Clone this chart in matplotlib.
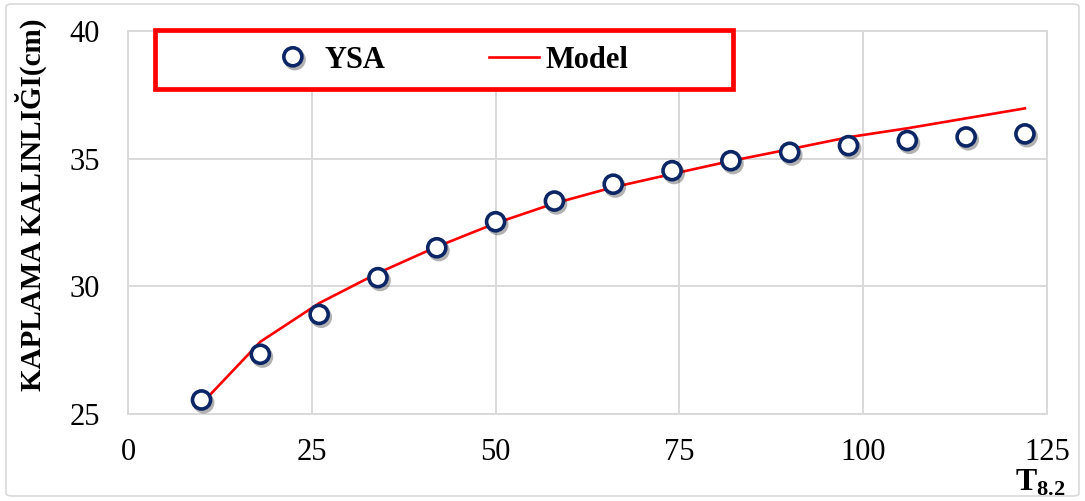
import matplotlib
matplotlib.use("Agg")
import matplotlib.pyplot as plt
import matplotlib.patheffects as pe
from matplotlib.patches import FancyBboxPatch, Rectangle

plt.rcParams['font.family'] = ['Liberation Serif', 'DejaVu Serif']
plt.rcParams['mathtext.fontset'] = 'custom'
plt.rcParams['mathtext.rm'] = 'Liberation Serif'
plt.rcParams['mathtext.bf'] = 'Liberation Serif:bold'

# T8.2 values and pavement thickness (cm)
t_values = [10, 18, 26, 34, 42, 50, 58, 66, 74, 82, 90, 98, 106, 114, 122]
ysa = [25.55, 27.34, 28.9, 30.34, 31.51, 32.53, 33.34, 34.0, 34.53,
       34.92, 35.25, 35.51, 35.71, 35.85, 35.97]
model = [25.4, 27.83, 29.34, 30.52, 31.55, 32.47, 33.25, 33.88, 34.4,
         34.91, 35.37, 35.84, 36.19, 36.58, 36.97]

x_ticks = [0, 25, 50, 75, 100, 125]
y_ticks = [25, 30, 35, 40]

W, H = 1085, 501
fig = plt.figure(figsize=(W / 100, H / 100), dpi=100)
ax = fig.add_axes([128 / W, 1 - 414 / H, (1047 - 128) / W, (414 - 31) / H])

grid_c = '#D9D9D9'
ax.set_xlim(0, 125)
ax.set_ylim(25, 40)
ax.set_xticks(x_ticks)
ax.set_yticks(y_ticks)
ax.grid(True, color=grid_c, linewidth=1.4)
ax.set_axisbelow(True)
for s in ax.spines.values():
    s.set_color(grid_c)
    s.set_linewidth(1.4)
ax.tick_params(length=0, labelsize=22)
ax.tick_params(axis='y', pad=20)
ax.tick_params(axis='x', pad=17)

ax.plot(t_values, model, color='#FF0000', linewidth=1.9, label='Model', zorder=3)
ax.plot(t_values, ysa, linestyle='none', marker='o', markersize=13,
        markerfacecolor='white', markeredgecolor='#0B2565', markeredgewidth=2.6,
        label='YSA', zorder=4,
        path_effects=[pe.SimpleLineShadow(offset=(1.5, -2), shadow_color='black',
                                          alpha=0.3), pe.Normal()])

fig.text(31 / W, 1 - 205 / H, 'KAPLAMA KALINLIĞI(cm)', fontsize=21,
         fontweight='bold', rotation=90, ha='center', va='center')
fig.text(1015 / W, 1 - 491 / H, r'$\mathbf{T}_{\mathbf{8.2}}$', fontsize=23,
         ha='left', va='baseline')

# legend: frameless entries inside a wide red box
box = Rectangle((155 / W, 1 - 89 / H), (733 - 155) / W, (89 - 30) / H,
                transform=fig.transFigure, facecolor='white',
                edgecolor='#FF0000', linewidth=3.4, zorder=5)
fig.patches.append(box)

handles, labels = ax.get_legend_handles_labels()
order = [1, 0]
leg = fig.legend([handles[i] for i in order], [labels[i] for i in order],
                 loc='center', bbox_to_anchor=(448 / W, 1 - 60 / H),
                 bbox_transform=fig.transFigure, ncol=2, frameon=False,
                 handlelength=1.65, handletextpad=0.2,
                 columnspacing=3.4, prop={'weight': 'bold', 'size': 22})
leg.set_zorder(6)

border = FancyBboxPatch((6 / W, 5 / H), (1079 - 6) / W, (497 - 5) / H,
                        boxstyle='round,pad=0,rounding_size=0.006',
                        transform=fig.transFigure, fill=False,
                        edgecolor=grid_c, linewidth=1.2)
fig.patches.append(border)

fig.savefig('out.png', dpi=100)
